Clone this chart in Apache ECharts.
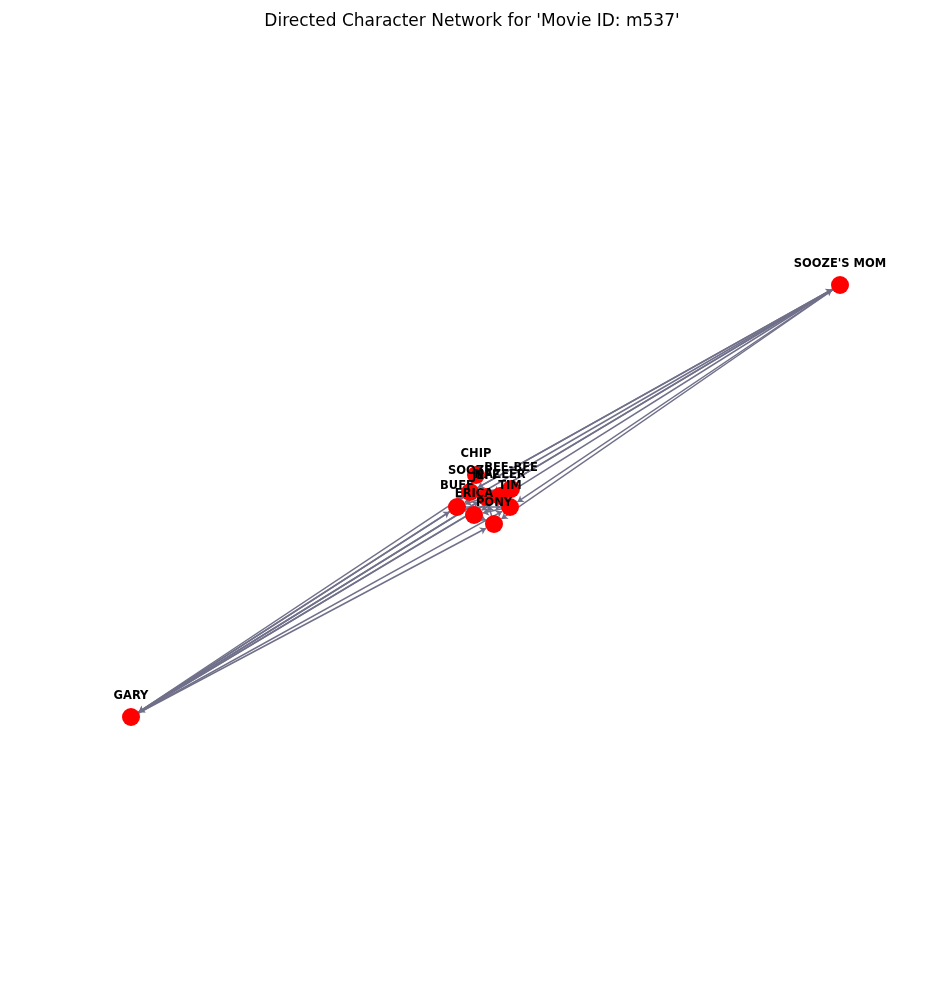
<html>
<head>
<meta charset="utf-8" />
<script src="https://cdn.jsdelivr.net/npm/echarts@6/dist/echarts.min.js"></script>
</head>
<body style="margin:0">
<div id="main" style="width:944px;height:986px"></div>
<script>
var names = ['SOOZE\'S MOM', 'GARY', 'CHIP', 'SOOZE', 'BEE-BEE', 'NAZEER', 'BUFF', 'TIM', 'ERICA', 'PONY', 'JEFF'];
var xs = [840, 131, 476, 470, 511, 500, 457, 510, 474, 494, 486];
var ys = [285, 717, 475, 492, 489, 496, 507, 507, 515, 524, 497];
var links = [
  ['SOOZE\'S MOM', 'JEFF'], ['SOOZE\'S MOM', 'SOOZE'], ['SOOZE\'S MOM', 'BUFF'], ['SOOZE\'S MOM', 'TIM'],
  ['SOOZE\'S MOM', 'ERICA'], ['SOOZE\'S MOM', 'PONY'], ['JEFF', 'SOOZE\'S MOM'], ['SOOZE', 'SOOZE\'S MOM'],
  ['GARY', 'JEFF'], ['GARY', 'BUFF'], ['GARY', 'TIM'], ['GARY', 'NAZEER'], ['GARY', 'BEE-BEE'],
  ['GARY', 'SOOZE'], ['GARY', 'PONY'], ['JEFF', 'GARY'], ['BUFF', 'GARY'],
  ['JEFF', 'SOOZE'], ['SOOZE', 'JEFF'], ['JEFF', 'BUFF'], ['BUFF', 'TIM'], ['TIM', 'JEFF'],
  ['CHIP', 'SOOZE'], ['BEE-BEE', 'SOOZE'], ['NAZEER', 'TIM'], ['ERICA', 'PONY'], ['PONY', 'JEFF'],
  ['BUFF', 'ERICA'], ['TIM', 'ERICA'], ['CHIP', 'BUFF'], ['BEE-BEE', 'TIM']
];
var chart = echarts.init(document.getElementById('main'));
chart.setOption({
  title: { text: "Directed Character Network for 'Movie ID: m537'", left: 'center', top: 8,
    textStyle: { fontFamily: 'DejaVu Sans', fontSize: 17, fontWeight: 'normal', color: '#000' } },
  grid: { left: 0, right: 0, top: 0, bottom: 0 },
  xAxis: { type: 'value', min: 0, max: 944, show: false },
  yAxis: { type: 'value', min: 0, max: 986, inverse: true, show: false },
  series: [{
    type: 'graph', coordinateSystem: 'cartesian2d', layout: 'none',
    symbolSize: 18,
    itemStyle: { color: '#ff0000' },
    label: { show: true, position: 'top', distance: 6, color: '#000', fontWeight: 'bold',
      fontSize: 11.5, fontFamily: 'DejaVu Sans' },
    edgeSymbol: ['none', 'arrow'], edgeSymbolSize: 6,
    lineStyle: { color: '#70708a', width: 1.5, opacity: 1, curveness: 0 },
    data: names.map(function (n, i) { return { name: n, value: [xs[i], ys[i]] }; }),
    links: links.map(function (l) { return { source: l[0], target: l[1] }; })
  }]
});
</script>
</body>
</html>
